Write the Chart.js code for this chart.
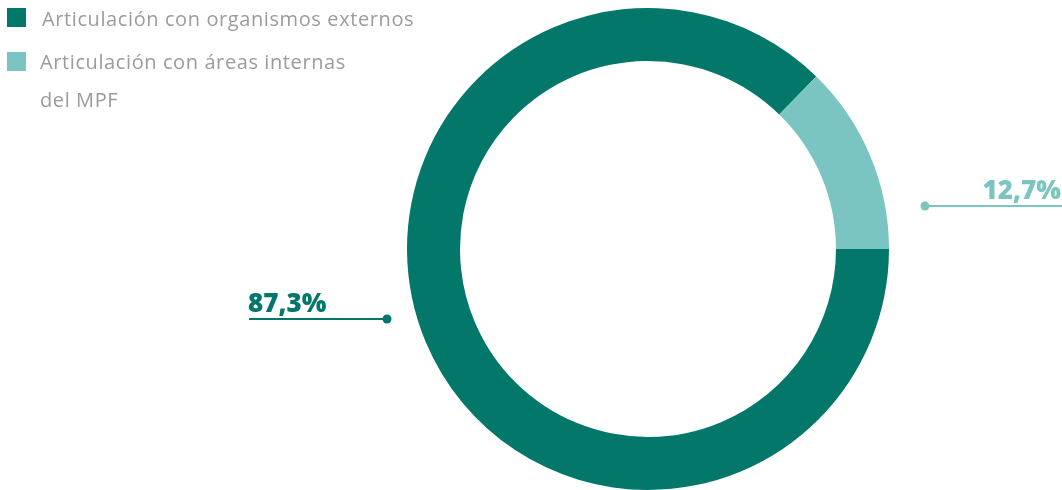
<!DOCTYPE html>
<html>
<head>
<meta charset="utf-8">
<script src="https://cdn.jsdelivr.net/npm/chart.js@4"></script>
<style>
  html, body { margin:0; padding:0; background:#fff; }
  #wrap { position:relative; width:1062px; height:490px; }
  #chart { position:absolute; left:0; top:0; }
  .legend { position:absolute; left:0; top:0; font-family:'Open Sans', sans-serif; font-size:20px; color:#9b9b9b; letter-spacing:0.6px; }
  .item { position:absolute; white-space:nowrap; line-height:38px; }
  .sw { position:absolute; width:19px; height:19px; }
</style>
</head>
<body>
<div id="wrap">
  <canvas id="chart" width="1062" height="490"></canvas>
  <div class="legend" id="legend"></div>
</div>
<script>
// series
var categories = ['Articulación con organismos externos', 'Articulación con áreas internas del MPF'];
var legendLines = [['Articulación con organismos externos'], ['Articulación con áreas internas', 'del MPF']];
var values = [87.3, 12.7];
var valueLabels = ['87,3%', '12,7%'];
var colors = ['#03776a', '#7ac5c1'];

// legend (html)
(function(){
  var lg = document.getElementById('legend');
  var tops = [0, 43];
  var lefts = [42, 40];
  var swTops = [8, 52];
  categories.forEach(function(c, i){
    var sw = document.createElement('div');
    sw.className = 'sw';
    sw.style.left = '7px';
    sw.style.top = swTops[i] + 'px';
    sw.style.background = colors[i];
    lg.appendChild(sw);
    var t = document.createElement('div');
    t.className = 'item';
    t.style.left = lefts[i] + 'px';
    t.style.top = tops[i] + 'px';
    t.innerHTML = legendLines[i].join('<br>');
    lg.appendChild(t);
  });
})();

// leader lines + value labels
var leaderPlugin = {
  id: 'leaders',
  afterDraw: function(chart){
    var ctx = chart.ctx;
    var arc = chart.getDatasetMeta(0).data[0];
    var cx = arc.x, cy = arc.y, r = arc.outerRadius;
    ctx.save();
    ctx.lineWidth = 2;
    ctx.font = '800 26px "Open Sans", sans-serif';
    ctx.textBaseline = 'alphabetic';

    // left label (first series)
    var dx = cx - r - 20, dy = cy + 70;
    ctx.strokeStyle = colors[0];
    ctx.fillStyle = colors[0];
    ctx.beginPath(); ctx.moveTo(249, dy); ctx.lineTo(dx, dy); ctx.stroke();
    ctx.beginPath(); ctx.arc(dx, dy, 4.5, 0, Math.PI * 2); ctx.fill();
    ctx.textAlign = 'left';
    ctx.fillText(valueLabels[0], 248, dy - 7);

    // right label (second series)
    var rx = cx + r + 36, ry = cy - 43;
    ctx.strokeStyle = colors[1];
    ctx.fillStyle = colors[1];
    ctx.beginPath(); ctx.moveTo(rx, ry); ctx.lineTo(1062, ry); ctx.stroke();
    ctx.beginPath(); ctx.arc(rx, ry, 4.5, 0, Math.PI * 2); ctx.fill();
    ctx.textAlign = 'right';
    ctx.fillText(valueLabels[1], 1061, ry - 7);
    ctx.restore();
  }
};

new Chart(document.getElementById('chart').getContext('2d'), {
  type: 'doughnut',
  data: {
    labels: categories,
    datasets: [{ data: values, backgroundColor: colors, borderWidth: 0 }]
  },
  options: {
    responsive: false,
    animation: false,
    rotation: 90,
    cutout: '78%',
    layout: { padding: { left: 407, right: 173, top: 8, bottom: 0 } },
    plugins: { legend: { display: false }, tooltip: { enabled: false } }
  },
  plugins: [leaderPlugin]
});
</script>
</body>
</html>
